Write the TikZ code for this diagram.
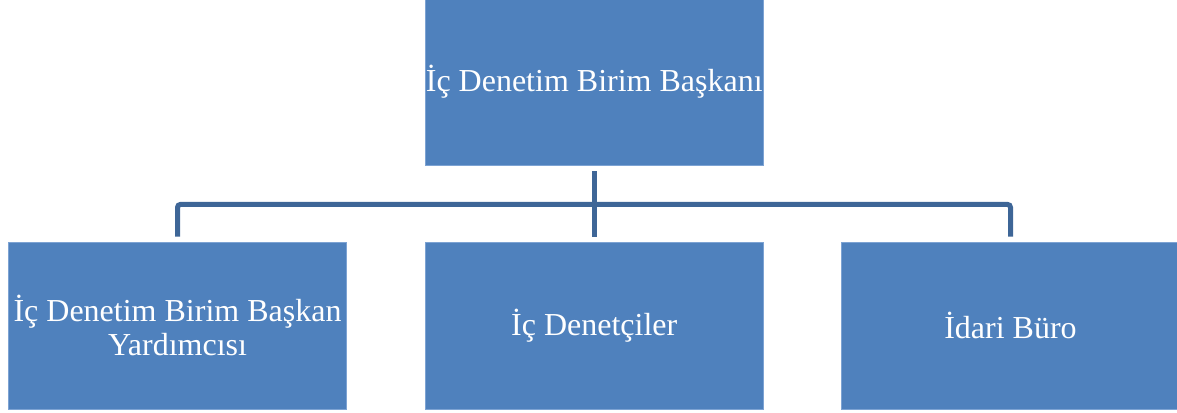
\documentclass[tikz,border=0pt]{standalone}
\usepackage{fontspec}
\setmainfont{Liberation Serif}
\usetikzlibrary{calc}
\definecolor{boxfill}{HTML}{4F81BD}
\definecolor{boxedge}{HTML}{7DA3D3}
\definecolor{linkc}{HTML}{3E6697}
\tikzset{
  orgbox/.style={rectangle, fill=boxfill, draw=boxedge, line width=0.8pt,
    minimum width=338.5pt, minimum height=167pt, inner sep=0pt,
    text=white, align=center,
    font=\fontsize{32pt}{34pt}\selectfont},
  link/.style={draw=linkc, line width=5pt, rounded corners=3pt}
}
\begin{document}
\begin{tikzpicture}[x=1pt,y=1pt]
\useasboundingbox (0,0) rectangle (1177,-412);
\clip (0,0) rectangle (1177,-412);
\node[orgbox, minimum height=166pt] (top) at (594.25,-82) {İç Denetim Birim Başkanı};
\node[orgbox] (left) at (177.5,-325.5) {İç Denetim Birim Başkan\\Yardımcısı};
\node[orgbox] (mid) at (594.25,-325.5) {İç Denetçiler};
\node[orgbox] (right) at (1010.5,-325.5) {İdari Büro};
\draw[link] ($(top.south)+(0,-6)$) -- ($(mid.north)+(0,5)$);
\draw[link] ($(left.north)+(0,5)$) |- ($(top.south)+(0,-39)$) -| ($(right.north)+(0,5)$);
\end{tikzpicture}
\end{document}
